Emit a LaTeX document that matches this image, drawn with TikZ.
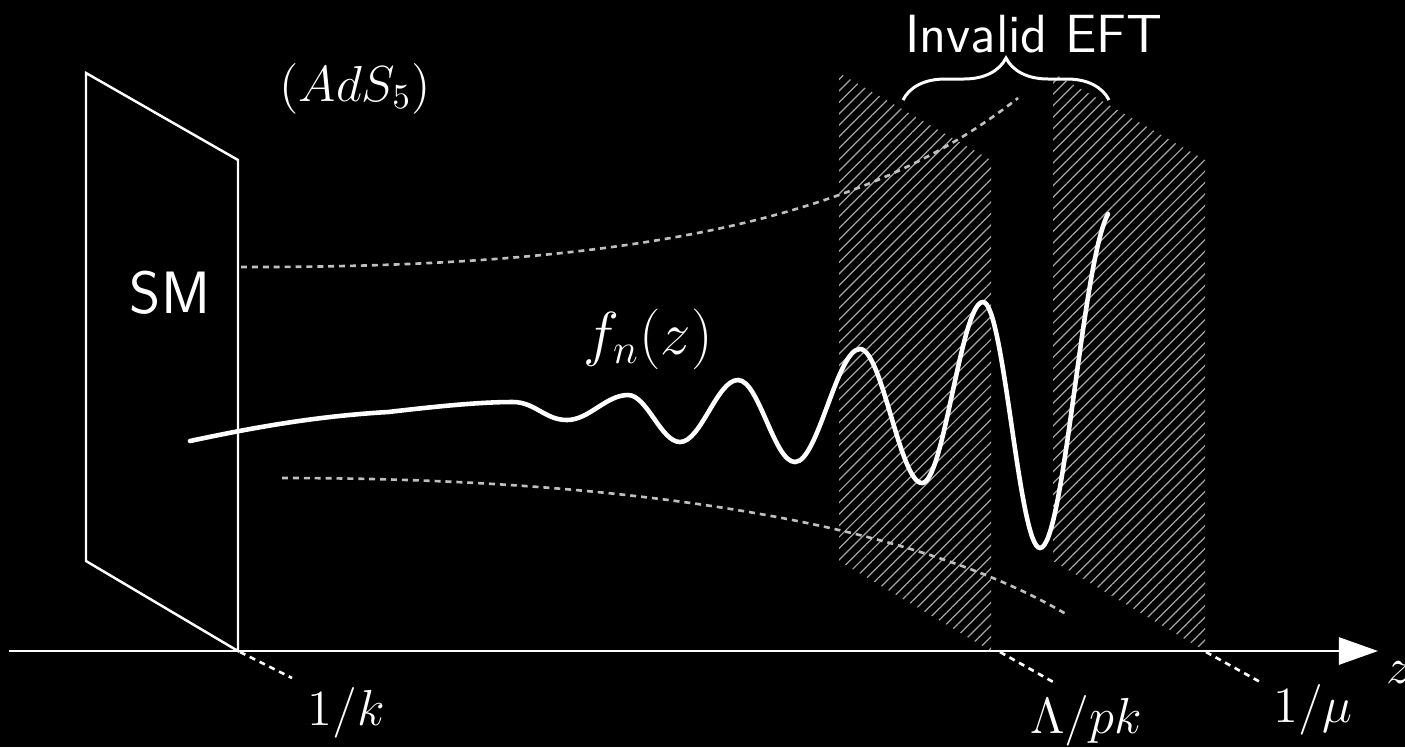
\documentclass[tikz,border=0pt]{standalone}
\usetikzlibrary{arrows.meta,patterns.meta,decorations.pathreplacing}

\begin{document}
\begin{tikzpicture}[x=0.01cm,y=-0.01cm,
    plane/.style={white,line width=0.7pt},
    hatch/.style={pattern={Lines[angle=45,distance=2.3pt,line width=0.35pt]},pattern color=white!65!black},
    guide/.style={white!75!black,line width=0.75pt,dash pattern=on 1.7pt off 1.4pt},
    tickline/.style={white,line width=0.75pt,dash pattern=on 1.7pt off 1.4pt},
    wave/.style={white,line width=1.3pt,line cap=round},
    lbl/.style={white,inner sep=0pt,anchor=base,font=\fontsize{14.2}{17}\selectfont},
    hand/.style={white,inner sep=0pt,anchor=base,font=\sffamily\fontsize{15.3}{18}\selectfont}]
   \fill[black] (0,0) rectangle (1405,747);
   \useasboundingbox (0,0) rectangle (1405,747);

   % hatched planes
   \foreach \dx in {753,967}
     \fill[hatch,shift={(\dx,0)}] (86,73) -- (238,160) -- (238,651) -- (86,561) -- cycle;

   % dashed envelope
   \draw[guide] (241,267) .. controls (650,268) and (870,215) .. (1018,98);
   \draw[guide] (282,478) .. controls (630,478) and (910,522) .. (1066,614);

   % SM brane
   \draw[plane] (86,73) -- (238,160) -- (238,651) -- (86,561) -- cycle;
   \node[hand,font=\sffamily\fontsize{17}{20}\selectfont] (sm) at (170,313) {SM};
   \node[lbl,anchor=base west] (ads) at (279,101) {$(AdS_5)$};

   % the mode
   \draw[wave] (190,441) .. controls (260,426) and (320,416) .. (388,412)
      .. controls (440,406) and (480,402) .. (513,402)
      .. controls (535,402) and (545,420) .. (567,420)
      .. controls +(22,0) and +(-22,0) .. (628,395)
      .. controls +(19,0) and +(-19,0) .. (680,442)
      .. controls +(21,0) and +(-21,0) .. (738,380)
      .. controls +(21,0) and +(-21,0) .. (795,462)
      .. controls +(23,0) and +(-23,0) .. (860,349)
      .. controls +(22,0) and +(-22,0) .. (922,483)
      .. controls +(22,0) and +(-22,0) .. (983,302)
      .. controls +(21,0) and +(-21,0) .. (1040,548)
      .. controls (1064,548) and (1082,262) .. (1108,214);
   \node[lbl,anchor=base west,font=\fontsize{18}{21}\selectfont] (fn) at (583,354) {$f_n(z)$};

   % z axis
   \coordinate (zO) at (9,651);
   \coordinate (zE) at (1378,651);
   \draw[white,line width=0.75pt,-{Triangle[length=0.39cm,width=0.27cm]}] (zO) -- (zE);
   \node[lbl,anchor=base west] (lz) at (1386,683) {$z$};

   \coordinate (k1) at (240,652);   \coordinate (k1e) at (292,678);
   \coordinate (k2) at (1000,652);  \coordinate (k2e) at (1055,683);
   \coordinate (k3) at (1206,652);  \coordinate (k3e) at (1262,683);
   \draw[tickline] (k1) -- (k1e);
   \draw[tickline] (k2) -- (k2e);
   \draw[tickline] (k3) -- (k3e);
   \node[lbl] (lk) at (346,725) {$1/k$};
   \node[lbl] (lpk) at (1086,733) {$\Lambda/pk$};
   \node[lbl] (lmu) at (1313,722) {$1/\mu$};

   % cut-off region
   \coordinate (bl) at (903,100);
   \coordinate (br) at (1109,100);
   \draw[white,line width=0.85pt,decorate,decoration={brace,amplitude=0.42cm}] (bl) -- (br);
   \node[hand] (eft) at (1034,52) {Invalid EFT};
  \end{tikzpicture}
\end{document}
